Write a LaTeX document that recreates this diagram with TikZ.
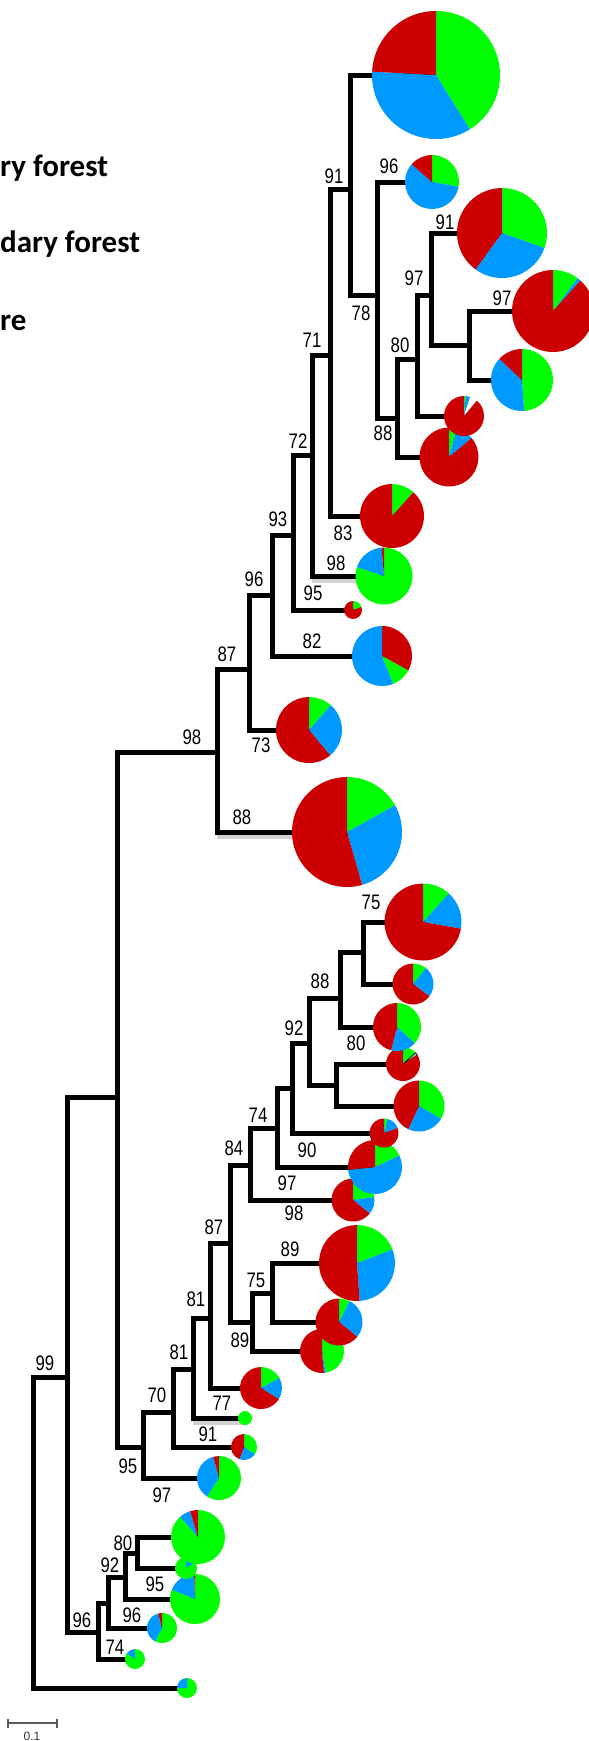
\documentclass[tikz,border=0pt]{standalone}
\usepackage{fontspec}
\usepackage{graphicx}
\setmainfont{Liberation Sans}
\newfontfamily\legf{Carlito}
\definecolor{cR}{HTML}{CC0000}
\definecolor{cG}{HTML}{00FF00}
\definecolor{cB}{HTML}{0099FF}
\definecolor{cW}{HTML}{FFFFFF}
\tikzset{
 br/.style={line width=5pt, line cap=rect, line join=miter},
 shd/.style={line width=5pt, draw=black!18},
 lbl/.style={font=\fontsize{21}{21}\selectfont, inner sep=0pt},
 leg/.style={font=\legf\bfseries\fontsize{31}{31}\selectfont, inner sep=0pt, anchor=base west},
 pienode/.style={circle, inner sep=0pt, outer sep=0pt},
 gw/.style={fill=gray!60, draw=black, line width=0.6pt},
}
\newcommand\bs[1]{\scalebox{0.8}[1]{#1}}
\newcommand\pienode[4]{\node[pienode, minimum size={2*#4pt}] (#1) at (#2,-#3) {};}
\newcommand\piefill[3]{\foreach \cl/\aa/\bb in {#3} {\fill[\cl] (#1.center) -- ++(\aa:#2) arc[start angle=\aa, end angle=\bb, radius=#2] -- cycle;}}
\begin{document}
\begin{tikzpicture}[x=1pt,y=1pt]
\useasboundingbox (0,0) rectangle (589,-1741);
% legend text (cut at left edge)
\node[leg] (t1) at (0,-176) {ry forest};
\node[leg] (t2) at (0,-252) {dary forest};
\node[leg] (t3) at (0,-330) {re};
% internal nodes
\coordinate (R) at (33,-1377);
\coordinate (N67) at (67,-1377);
\coordinate (N117) at (117,-1097);
\coordinate (N98) at (98,-1632);
\coordinate (N217) at (217,-752);
\coordinate (N143) at (143,-1447);
\coordinate (N249) at (249,-669);
\coordinate (N272u) at (272,-595);
\coordinate (N293) at (293,-535);
\coordinate (N312) at (312,-455);
\coordinate (N330) at (330,-355);
\coordinate (N350) at (350,-189);
\coordinate (N377) at (377,-295);
\coordinate (N397) at (397,-418);
\coordinate (N417) at (417,-359);
\coordinate (N431) at (431,-295);
\coordinate (N469) at (469,-345);
\coordinate (N173) at (173,-1412);
\coordinate (N193) at (193,-1369);
\coordinate (N210) at (210,-1318);
\coordinate (N230) at (230,-1243);
\coordinate (N252) at (252,-1322);
\coordinate (N272l) at (272,-1293);
\coordinate (N250) at (250,-1165);
\coordinate (N277) at (277,-1128);
\coordinate (N292) at (292,-1088);
\coordinate (N309) at (309,-1043);
\coordinate (N336) at (336,-1085);
\coordinate (N340) at (340,-998);
\coordinate (N363) at (363,-952);
\coordinate (N108) at (108,-1603);
\coordinate (N125) at (125,-1577);
\coordinate (N137) at (137,-1553);
% pie nodes
\pienode{pTop}{436}{75}{64}
\pienode{p96}{432}{182}{27}
\pienode{p91}{502}{233}{45}
\pienode{p97}{553}{311}{41}
\pienode{p97b}{522}{380}{31}
\pienode{pW}{464}{416}{20}
\pienode{p80}{449}{457}{29.5}
\pienode{p83}{392}{516}{32}
\pienode{p98}{384}{576}{28.5}
\pienode{p95}{353}{610}{9}
\pienode{p82}{382}{656}{30}
\pienode{p73}{309}{730}{33}
\pienode{p88}{347}{832}{55}
\pienode{q1}{423}{922}{38.5}
\pienode{q2}{413}{984}{20.5}
\pienode{q3}{397}{1027}{24}
\pienode{q4}{403}{1064}{17}
\pienode{q5}{419}{1106}{25.5}
\pienode{q6}{384}{1133}{14.5}
\pienode{q7}{375}{1167}{27}
\pienode{q8}{353}{1200}{21.5}
\pienode{q9}{357}{1263}{38}
\pienode{q10}{339}{1322}{23.5}
\pienode{q11}{322}{1351}{22}
\pienode{q12}{261}{1388}{21}
\pienode{q13}{245}{1418}{7}
\pienode{q14}{244}{1447}{13}
\pienode{q15}{219}{1478}{22}
\pienode{q16}{198}{1537}{27}
\pienode{q17}{186}{1568}{11}
\pienode{q18}{195}{1599}{25}
\pienode{q19}{162}{1628}{15}
\pienode{q20}{135}{1659}{10}
\pienode{q21}{187}{1688}{10}
% faint shadows under a few branches
\draw[shd] ([shift={(0,-4)}]N217 |- p88.center) -- ([shift={(0,-4)}]p88.center);
\draw[shd] ([shift={(0,-4)}]N312 |- p98.center) -- ([shift={(0,-4)}]p98.center);
\draw[shd] ([shift={(0,-4)}]N193 |- q13.center) -- ([shift={(0,-4)}]q13.center);
% branches
\draw[br] (R) |- (N67);
\draw[br] (R) |- (q21.center);
\draw[br] (N67) |- (N117);
\draw[br] (N67) |- (N98);
\draw[br] (N117) |- (N217);
\draw[br] (N117) |- (N143);
\draw[br] (N217) |- (N249);
\draw[br] (N217) |- (p88.center);
\draw[br] (N249) |- (N272u);
\draw[br] (N249) |- (p73.center);
\draw[br] (N272u) |- (N293);
\draw[br] (N272u) |- (p82.center);
\draw[br] (N293) |- (N312);
\draw[br] (N293) |- (p95.center);
\draw[br] (N312) |- (N330);
\draw[br] (N312) |- (p98.center);
\draw[br] (N330) |- (N350);
\draw[br] (N330) |- (p83.center);
\draw[br] (N350) |- (pTop.center);
\draw[br] (N350) |- (N377);
\draw[br] (N377) |- (p96.center);
\draw[br] (N377) |- (N397);
\draw[br] (N397) |- (N417);
\draw[br] (N397) |- (p80.center);
\draw[br] (N417) |- (N431);
\draw[br] (N417) |- (pW.center);
\draw[br] (N431) |- (p91.center);
\draw[br] (N431) |- (N469);
\draw[br] (N469) |- (p97.center);
\draw[br] (N469) |- (p97b.center);
\draw[br] (N143) |- (N173);
\draw[br] (N143) |- (q15.center);
\draw[br] (N173) |- (N193);
\draw[br] (N173) |- (q14.center);
\draw[br] (N193) |- (N210);
\draw[br] (N193) |- (q13.center);
\draw[br] (N210) |- (N230);
\draw[br] (N210) |- (q12.center);
\draw[br] (N230) |- (N250);
\draw[br] (N230) |- (N252);
\draw[br] (N252) |- (N272l);
\draw[br] (N252) |- (q11.center);
\draw[br] (N272l) |- (q9.center);
\draw[br] (N272l) |- (q10.center);
\draw[br] (N250) |- (N277);
\draw[br] (N250) |- (q8.center);
\draw[br] (N277) |- (N292);
\draw[br] (N277) |- (q7.center);
\draw[br] (N292) |- (N309);
\draw[br] (N292) |- (q6.center);
\draw[br] (N309) |- (N340);
\draw[br] (N309) |- (N336);
\draw[br] (N336) |- (q4.center);
\draw[br] (N336) |- (q5.center);
\draw[br] (N340) |- (N363);
\draw[br] (N340) |- (q3.center);
\draw[br] (N363) |- (q1.center);
\draw[br] (N363) |- (q2.center);
\draw[br] (N98) |- (N108);
\draw[br] (N98) |- (q20.center);
\draw[br] (N108) |- (N125);
\draw[br] (N108) |- (q19.center);
\draw[br] (N125) |- (N137);
\draw[br] (N125) |- (q18.center);
\draw[br] (N137) |- (q16.center);
\draw[br] (N137) |- (q17.center);
% pies, bottom to top
\piefill{q21}{10}{cG/90/-180, cB/-180/-270}
\piefill{q20}{10}{cG/90/-215, cB/-215/-270}
\piefill{q19}{15}{cG/90/-117, cB/-117/-255, cR/-255/-270}
\piefill{q18}{25}{cG/90/-202, cB/-202/-268, cR/-268/-270}
\piefill{q17}{11}{cB/90/30, cG/30/-270}
\piefill{q16}{27}{cG/90/-228, cB/-228/-253, cR/-253/-270}
\piefill{q15}{22}{cG/90/-123, cB/-123/-255, cR/-255/-270}
\piefill{q14}{13}{cG/90/-33, cB/-33/-110, cR/-110/-270}
\piefill{q13}{7}{cG/90/-270}
\piefill{q12}{21}{cG/90/28, cB/28/-32, cR/-32/-270}
\piefill{q11}{22}{cG/90/-80, cB/-80/-85, cR/-85/-270}
\piefill{q10}{23.5}{cG/90/63, cB/63/-39, cR/-39/-270}
\piefill{q9}{38}{cG/90/21, cB/21/-86, cR/-86/-270}
\piefill{q8}{21.5}{cG/90/8, cB/8/-39, cR/-39/-270}
\piefill{q7}{27}{cG/90/25, cB/25/-174, cR/-174/-270}
\piefill{q6}{14.5}{cG/90/75, cB/75/20, cR/20/-270}
\piefill{q5}{25.5}{cG/90/-30, cB/-30/-115, cR/-115/-270}
\piefill{q4}{17}{cG/90/42, gw/42/32, cR/32/-270}
\piefill{q3}{24}{cG/90/-42, cB/-42/-104, cR/-104/-270}
\piefill{q2}{20.5}{cG/90/51, cB/51/-37, cR/-37/-270}
\piefill{q1}{38.5}{cG/90/48, cB/48/-10, cR/-10/-270}
\piefill{p88}{55}{cG/90/29, cB/29/-74, cR/-74/-270}
\piefill{p73}{33}{cG/90/49, cB/49/-50, cR/-50/-270}
\piefill{p82}{30}{cR/90/-29, cG/-29/-68, cB/-68/-270}
\piefill{p95}{9}{cG/90/20, cR/20/-270}
\piefill{p98}{28.5}{cG/90/-198, cB/-198/-265, cR/-265/-270}
\piefill{p83}{32}{cG/90/48, cR/48/-270}
\piefill{p80}{29.5}{cG/90/75, cB/75/40, cR/40/-270}
\piefill{pW}{20}{cG/90/85, cB/85/72, cW/72/50, cR/50/-270}
\piefill{p97b}{31}{cG/90/-86, cB/-86/-223, cR/-223/-270}
\piefill{p97}{41}{cG/90/53, cB/53/48, cR/48/-270}
\piefill{p91}{45}{cG/90/-19.5, cB/-19.5/-126, cR/-126/-270}
\piefill{p96}{27}{cG/90/-10, cB/-10/-221, cR/-221/-270}
\piefill{pTop}{64}{cG/90/-58, cB/-58/-183, cR/-183/-270}
% support values
\node[lbl] (l1) at (334,-176) {\bs{91}};
\node[lbl] (l2) at (389,-166) {\bs{96}};
\node[lbl] (l3) at (445,-222) {\bs{91}};
\node[lbl] (l4) at (361,-313) {\bs{78}};
\node[lbl] (l5) at (414,-278) {\bs{97}};
\node[lbl] (l6) at (502,-298) {\bs{97}};
\node[lbl] (l7) at (312,-340) {\bs{71}};
\node[lbl] (l8) at (400,-345) {\bs{80}};
\node[lbl] (l9) at (383,-433) {\bs{88}};
\node[lbl] (l10) at (298,-441) {\bs{72}};
\node[lbl] (l11) at (343,-533) {\bs{83}};
\node[lbl] (l12) at (336,-563) {\bs{98}};
\node[lbl] (l13) at (278,-519) {\bs{93}};
\node[lbl] (l14) at (313,-593) {\bs{95}};
\node[lbl] (l15) at (254,-579) {\bs{96}};
\node[lbl] (l16) at (312,-641) {\bs{82}};
\node[lbl] (l17) at (227,-654) {\bs{87}};
\node[lbl] (l18) at (192,-737) {\bs{98}};
\node[lbl] (l19) at (261,-745) {\bs{73}};
\node[lbl] (l20) at (242,-817) {\bs{88}};
\node[lbl] (l21) at (371,-902) {\bs{75}};
\node[lbl] (l22) at (320,-981) {\bs{88}};
\node[lbl] (l23) at (294,-1028) {\bs{92}};
\node[lbl] (l24) at (356,-1043) {\bs{80}};
\node[lbl] (l25) at (258,-1115) {\bs{74}};
\node[lbl] (l26) at (234,-1148) {\bs{84}};
\node[lbl] (l27) at (307,-1150) {\bs{90}};
\node[lbl] (l28) at (287,-1183) {\bs{97}};
\node[lbl] (l29) at (294,-1213) {\bs{98}};
\node[lbl] (l30) at (214,-1227) {\bs{87}};
\node[lbl] (l31) at (290,-1249) {\bs{89}};
\node[lbl] (l32) at (256,-1280) {\bs{75}};
\node[lbl] (l33) at (196,-1299) {\bs{81}};
\node[lbl] (l34) at (240,-1340) {\bs{89}};
\node[lbl] (l35) at (179,-1352) {\bs{81}};
\node[lbl] (l36) at (45,-1363) {\bs{99}};
\node[lbl] (l37) at (157,-1395) {\bs{70}};
\node[lbl] (l38) at (222,-1403) {\bs{77}};
\node[lbl] (l39) at (208,-1434) {\bs{91}};
\node[lbl] (l40) at (128,-1466) {\bs{95}};
\node[lbl] (l41) at (162,-1495) {\bs{97}};
\node[lbl] (l42) at (123,-1543) {\bs{80}};
\node[lbl] (l43) at (110,-1565) {\bs{92}};
\node[lbl] (l44) at (155,-1584) {\bs{95}};
\node[lbl] (l45) at (82,-1620) {\bs{96}};
\node[lbl] (l46) at (132,-1615) {\bs{96}};
\node[lbl] (l47) at (115,-1647) {\bs{74}};
% scale bar
\coordinate (sb1) at (8,-1723);
\coordinate (sb2) at (57,-1723);
\draw[gray!70!black, line width=1.3pt] (sb1) -- (sb2);
\draw[gray!70!black, line width=1.3pt] ([yshift=4.5pt]sb1) -- ([yshift=-4.5pt]sb1);
\draw[gray!70!black, line width=1.3pt] ([yshift=4.5pt]sb2) -- ([yshift=-4.5pt]sb2);
\node[font=\fontsize{12}{12}\selectfont, inner sep=0pt, text=gray!40!black] (sbl) at (32,-1736) {0.1};
\end{tikzpicture}
\end{document}
